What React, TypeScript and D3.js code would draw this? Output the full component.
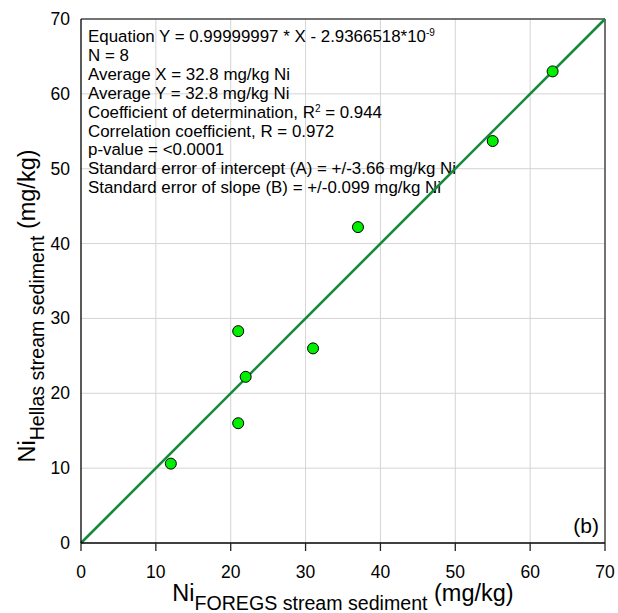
import React, { useRef, useEffect } from "react";
import { select, scaleLinear, range } from "d3";

// sample values
const niForegs = [12, 21, 22, 21, 31, 37, 55, 63];
const niHellas = [10.6, 28.3, 22.2, 16, 26, 42.2, 53.7, 63];
const axisTicks = [0, 10, 20, 30, 40, 50, 60, 70];
const slope = 0.99999997;
const intercept = -2.9366518e-9;

const statLines = [
  [{ t: "Equation Y = 0.99999997 * X - 2.9366518*10" }, { t: "-9", sup: true }],
  [{ t: "N = 8" }],
  [{ t: "Average X = 32.8 mg/kg Ni" }],
  [{ t: "Average Y = 32.8 mg/kg Ni" }],
  [{ t: "Coefficient of determination, R" }, { t: "2", sup: true }, { t: " = 0.944" }],
  [{ t: "Correlation coefficient, R = 0.972" }],
  [{ t: "p-value = <0.0001" }],
  [{ t: "Standard error of intercept (A) = +/-3.66 mg/kg Ni" }],
  [{ t: "Standard error of slope (B) = +/-0.099 mg/kg Ni" }],
];

const W = 618;
const H = 613;
const margin = { left: 81, right: 13, top: 19, bottom: 70 };
const FONT = "'Liberation Sans', Arial, Helvetica, sans-serif";

function App() {
  const svgRef = useRef(null);

  useEffect(() => {
    document.body.style.margin = "0";
    const svg = select(svgRef.current);
    svg.selectAll("*").remove();

    const x = scaleLinear().domain([0, 70]).range([margin.left, W - margin.right]);
    const y = scaleLinear().domain([0, 70]).range([H - margin.bottom, margin.top]);

    const g = svg.append("g").attr("font-family", FONT);

    // grid
    g.selectAll(".gx")
      .data(axisTicks.slice(1, -1))
      .join("line")
      .attr("class", "gx")
      .attr("x1", (d) => x(d))
      .attr("x2", (d) => x(d))
      .attr("y1", y(0))
      .attr("y2", y(70))
      .attr("stroke", "#d4d4d4")
      .attr("stroke-width", 1);
    g.selectAll(".gy")
      .data(axisTicks.slice(1, -1))
      .join("line")
      .attr("class", "gy")
      .attr("y1", (d) => y(d))
      .attr("y2", (d) => y(d))
      .attr("x1", x(0))
      .attr("x2", x(70))
      .attr("stroke", "#d4d4d4")
      .attr("stroke-width", 1);

    // frame (top/right grey, left/bottom black)
    g.append("line")
      .attr("x1", x(0)).attr("x2", x(70)).attr("y1", y(70)).attr("y2", y(70))
      .attr("stroke", "#444").attr("stroke-width", 1.5);
    g.append("line")
      .attr("x1", x(70)).attr("x2", x(70)).attr("y1", y(0)).attr("y2", y(70))
      .attr("stroke", "#444").attr("stroke-width", 1.5);

    // stats text
    const txt = g.append("text")
      .attr("font-size", 16.9)
      .attr("fill", "#000");
    statLines.forEach((parts, i) => {
      const baseY = 42 + i * 18.9;
      parts.forEach((p, j) => {
        const ts = txt.append("tspan").text(p.t);
        if (j === 0) ts.attr("x", 88).attr("y", baseY);
        if (p.sup) ts.attr("font-size", 10).attr("dy", -6);
        else if (j > 0 && parts[j - 1].sup) ts.attr("dy", 6);
      });
    });

    // regression line
    g.append("line")
      .attr("x1", x(0))
      .attr("y1", y(intercept))
      .attr("x2", x(70))
      .attr("y2", y(slope * 70 + intercept))
      .attr("stroke", "#168a3a")
      .attr("stroke-width", 2.6);

    // points
    g.selectAll(".pt")
      .data(range(niForegs.length))
      .join("circle")
      .attr("class", "pt")
      .attr("cx", (i) => x(niForegs[i]))
      .attr("cy", (i) => y(niHellas[i]))
      .attr("r", 5.5)
      .attr("fill", "#00ee00")
      .attr("stroke", "#000")
      .attr("stroke-width", 1);

    // axes
    g.append("line")
      .attr("x1", x(0)).attr("x2", x(0)).attr("y1", y(0)).attr("y2", y(70))
      .attr("stroke", "#000").attr("stroke-width", 1.3);
    g.append("line")
      .attr("x1", x(0)).attr("x2", x(70)).attr("y1", y(0)).attr("y2", y(0))
      .attr("stroke", "#000").attr("stroke-width", 1.3);
    g.selectAll(".xt")
      .data(axisTicks)
      .join("line")
      .attr("class", "xt")
      .attr("x1", (d) => x(d)).attr("x2", (d) => x(d))
      .attr("y1", y(0)).attr("y2", y(0) + 8)
      .attr("stroke", "#222").attr("stroke-width", 1.3);

    g.selectAll(".xl")
      .data(axisTicks)
      .join("text")
      .attr("class", "xl")
      .attr("x", (d) => x(d))
      .attr("y", 578)
      .attr("text-anchor", "middle")
      .attr("font-size", 17.5)
      .text((d) => d);
    g.selectAll(".yl")
      .data(axisTicks)
      .join("text")
      .attr("class", "yl")
      .attr("x", 70)
      .attr("y", (d) => y(d) + 6)
      .attr("text-anchor", "end")
      .attr("font-size", 17.5)
      .text((d) => d);

    // (b)
    g.append("text")
      .attr("x", 599).attr("y", 533)
      .attr("text-anchor", "end")
      .attr("font-size", 21)
      .text("(b)");

    // axis titles
    const xt = g.append("text")
      .attr("x", (x(0) + x(70)) / 2)
      .attr("y", 601)
      .attr("text-anchor", "middle")
      .attr("font-size", 23.5);
    xt.append("tspan").text("Ni");
    xt.append("tspan").attr("font-size", 19.6).attr("dy", 9).text("FOREGS stream sediment");
    xt.append("tspan").attr("dy", -9).text(" (mg/kg)");

    const yt = g.append("text")
      .attr("transform", `translate(35,${(y(0) + y(70)) / 2 + 25}) rotate(-90)`)
      .attr("text-anchor", "middle")
      .attr("font-size", 23.5);
    yt.append("tspan").text("Ni");
    yt.append("tspan").attr("font-size", 19.6).attr("dy", 9).text("Hellas stream sediment");
    yt.append("tspan").attr("dy", -9).text(" (mg/kg)");
  }, []);

  return (
    <svg ref={svgRef} width={W} height={H} style={{ display: "block", background: "#fff" }}></svg>
  );
}

export default App;
